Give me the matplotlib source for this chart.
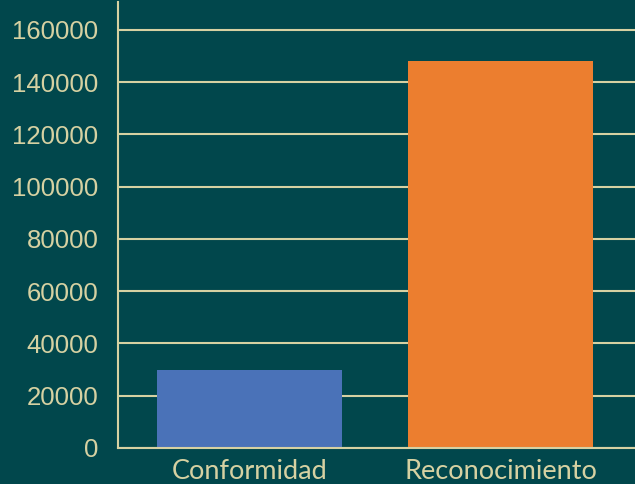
import matplotlib
matplotlib.use('Agg')
from matplotlib import pyplot as plt

categories = ['Conformidad', 'Reconocimiento']
values = [30000, 148000]
bar_colors = ['#4A72B8', '#EC7E2F']
yticks = [0, 20000, 40000, 60000, 80000, 100000, 120000, 140000, 160000]

bg = '#01474C'
cream = '#D6D1A2'

fig = plt.figure(figsize=(6.35, 4.84), dpi=100, facecolor=bg)
ax = fig.add_axes([0.1858, 0.0744, 0.8142, 0.9215], facecolor=bg)

ax.set_axisbelow(True)
ax.yaxis.grid(True, color=cream, linewidth=1.5)
ax.bar(range(len(categories)), values, width=0.737, color=bar_colors, zorder=2)

ax.set_xlim(-0.524, 1.536)
ax.set_ylim(0, 170700)
ax.set_yticks(yticks)
ax.set_yticklabels([str(v) for v in yticks], fontsize=18.5,
                   family='Liberation Sans', color=cream)
ax.set_xticks(range(len(categories)))
ax.set_xticklabels(categories, fontsize=19.5, family='Lato', color=cream)
ax.tick_params(axis='y', length=0, pad=14)
ax.tick_params(axis='x', length=0, pad=8)

for side in ['top', 'right']:
    ax.spines[side].set_visible(False)
ax.spines['left'].set_color(cream)
ax.spines['left'].set_linewidth(1.5)
ax.spines['bottom'].set_color(cream)
ax.spines['bottom'].set_linewidth(1.5)

plt.savefig('out.png', dpi=100, facecolor=bg)
